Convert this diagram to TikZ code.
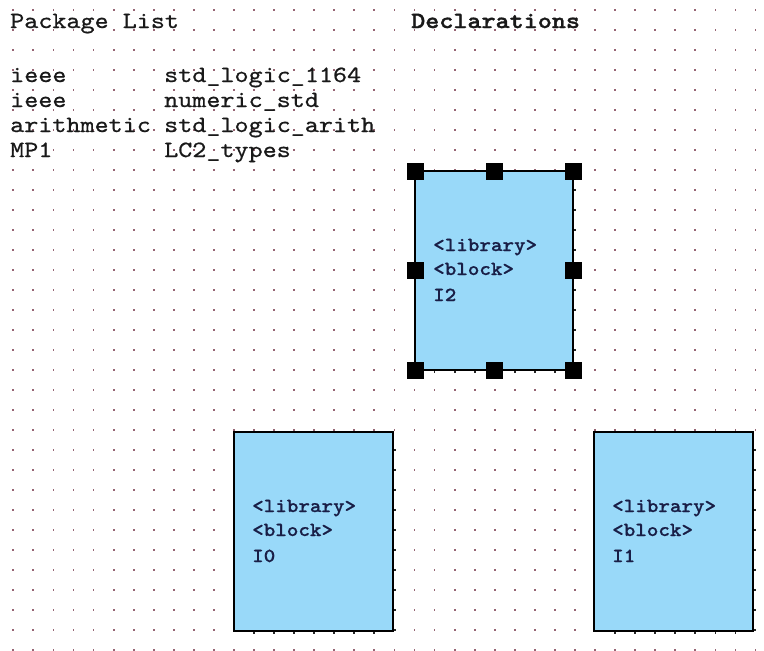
\documentclass[tikz,border=0pt]{standalone}
\usepackage{fontspec}
\newfontfamily\pkgfont{lmmono10-regular.otf}[FakeStretch=1.15,FakeBold=0.7]
\newfontfamily\declfont{lmmonolt10-bold.otf}[FakeStretch=1.15,FakeBold=1.4]
\newfontfamily\blkfont{lmmonolt10-bold.otf}[FakeStretch=1.1,FakeBold=0.6]
\definecolor{blockfill}{RGB}{153,217,249}
\definecolor{griddot}{RGB}{150,100,115}
\definecolor{blocktext}{RGB}{25,30,70}
\definecolor{listink}{RGB}{25,25,25}

\tikzset{
  listtext/.style={anchor=base west, inner sep=0pt, text=listink,
    font=\pkgfont\fontsize{23.3}{25}\selectfont},
  headtext/.style={anchor=base west, inner sep=0pt, text=listink,
    font=\declfont\fontsize{23.3}{25}\selectfont},
  blocklabel/.style={anchor=base west, inner sep=0pt, text=blocktext,
    font=\blkfont\fontsize{20}{24}\selectfont},
  blockbox/.style={draw=black, line width=1.5pt, fill=blockfill,
    anchor=north west, minimum width=158pt, minimum height=199pt,
    inner sep=0pt, outer sep=0pt},
  handle/.style={fill=black, draw=none, minimum size=17pt, inner sep=0pt,
    outer sep=0pt},
  edgetick/.style={fill=black!85}
}

\begin{document}
\begin{tikzpicture}[x=1pt, y=-1pt]
  \useasboundingbox (0,0) rectangle (764,651);
  \fill[white] (0,0) rectangle (764,651);

  % dotted drawing grid
  \foreach \i in {0,...,37} {
    \foreach \j in {0,...,32} {
      \fill[griddot] ({13.3+20.06*\i-0.9},{10+20*\j-0.9}) rectangle ++(1.8,1.8);
    }
  }

  % package list
  \node[listtext] (pkghead) at (10,28) {Package List};
  \node[listtext] (lib1) at (10,82)  {ieee};
  \node[listtext] (lib2) at (10,107) {ieee};
  \node[listtext] (lib3) at (10,132) {arithmetic};
  \node[listtext] (lib4) at (10,157) {MP1};
  \node[listtext] (pkg1) at (164,82)  {std\_logic\_1164};
  \node[listtext] (pkg2) at (164,107) {numeric\_std};
  \node[listtext] (pkg3) at (164,132) {std\_logic\_arith};
  \node[listtext] (pkg4) at (164,157) {LC2\_types};

  \node[headtext] (declhead) at (411,28) {Declarations};

  % component blocks
  \node[blockbox, minimum width=158pt] (I2box) at (415,171) {};
  \node[blockbox, minimum width=159pt] (I0box) at (234,432) {};
  \node[blockbox, minimum width=159pt] (I1box) at (594,432) {};

  % grid dots peeking out along the right and bottom edges
  \foreach \j in {9,...,18}
    \fill[edgetick] (573.5,{10+20*\j-0.9}) rectangle ++(2,1.8);
  \foreach \i in {21,...,27}
    \fill[edgetick] ({13.3+20.06*\i-0.9},370.5) rectangle ++(1.8,2);
  \foreach \j in {22,...,31} {
    \fill[edgetick] (393.5,{10+20*\j-0.9}) rectangle ++(2,1.8);
    \fill[edgetick] (753.5,{10+20*\j-0.9}) rectangle ++(2,1.8);
  }
  \foreach \i in {12,...,18}
    \fill[edgetick] ({13.3+20.06*\i-0.9},631.5) rectangle ++(1.8,2);
  \foreach \i in {30,...,36}
    \fill[edgetick] ({13.3+20.06*\i-0.9},631.5) rectangle ++(1.8,2);

  % block labels
  \node[blocklabel] (I2lib) at (433,251) {<library>};
  \node[blocklabel] (I2blk) at (433,275) {<block>};
  \node[blocklabel] (I2inst) at (433,301) {I2};

  \node[blocklabel] (I0lib) at (252,512) {<library>};
  \node[blocklabel] (I0blk) at (252,536) {<block>};
  \node[blocklabel] (I0inst) at (252,562) {I0};

  \node[blocklabel] (I1lib) at (612,512) {<library>};
  \node[blocklabel] (I1blk) at (612,536) {<block>};
  \node[blocklabel] (I1inst) at (612,562) {I1};

  % selection handles on the selected block
  \foreach \a [count=\n] in {north west, north, north east, east,
                             south east, south, south west, west}
    \node[handle] (hnd\n) at (I2box.\a) {};
\end{tikzpicture}
\end{document}
